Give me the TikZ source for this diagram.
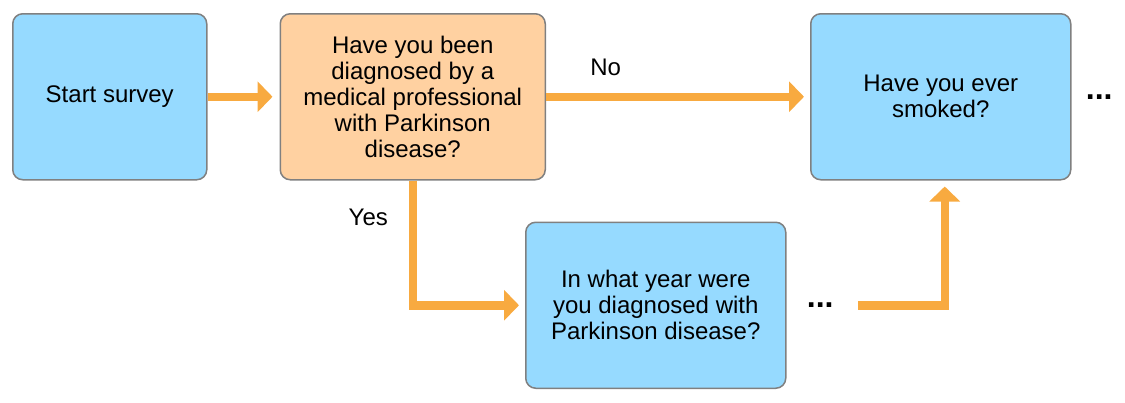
\documentclass[tikz,border=0pt]{standalone}
\usepackage{fontspec}
\setmainfont{Liberation Sans}
\usepackage{xcolor}
\usepackage{tikz}
\usetikzlibrary{arrows.meta,
                positioning}
\definecolor{boxblue}{HTML}{96DAFF}
\definecolor{boxorange}{HTML}{FFD1A1}
\definecolor{arroworange}{HTML}{F8AA40}
\definecolor{boxgray}{HTML}{808080}
\tikzstyle{box} = [rectangle,rounded corners=5pt,draw=boxgray,line width=0.75pt,fill=boxblue,align=center,minimum height=83pt,font=\fontsize{12}{13}\selectfont]
\tikzstyle{question} = [box,fill=boxorange]
\tikzstyle{arrow} = [draw=arroworange,line width=4.25pt,-{Triangle[length=7.5pt,width=15pt]},shorten >=3pt]
\tikzstyle{more} = [inner sep=0pt,font=\fontsize{16}{18}\bfseries]
\tikzstyle{answer} = [font=\fontsize{12}{13}\selectfont]

\begin{document}
\begin{tikzpicture}
        \useasboundingbox (0,0) rectangle (562.5pt,-201pt);

        \node[box, minimum width=97pt, anchor=north west] (start) at (6pt,-6.5pt) {Start survey};
        \node[question, minimum width=132.5pt] (diag)[right= 36pt of start] {Have you been\\diagnosed by a\\medical professional\\with Parkinson\\disease?};
        \node[box, minimum width=130pt] (smoke)[right= 132pt of diag] {Have you ever\\smoked?};
        \node[box, minimum width=130pt] (year)[below right= 20.5pt and -10.5pt of diag.south east] {In what year were\\you diagnosed with\\Parkinson disease?};
        \node[more] (more1)[right= 7pt of smoke] {...};
        \node[more] (more2)[right= 10pt of year] {...};
        \draw[arrow, shorten >=3.5pt] (start) -- (diag);
        \draw[arrow] (diag) -- node[answer, above=5pt, pos=0.226] {No} (smoke);
        \draw[arrow] (diag.south) |- node[answer, left=7pt, pos=0.146] {Yes} (year.west);
        \draw[arrow, shorten <=12pt] (more2.east) -| ([xshift=2pt]smoke.south);
    \end{tikzpicture}
\end{document}
